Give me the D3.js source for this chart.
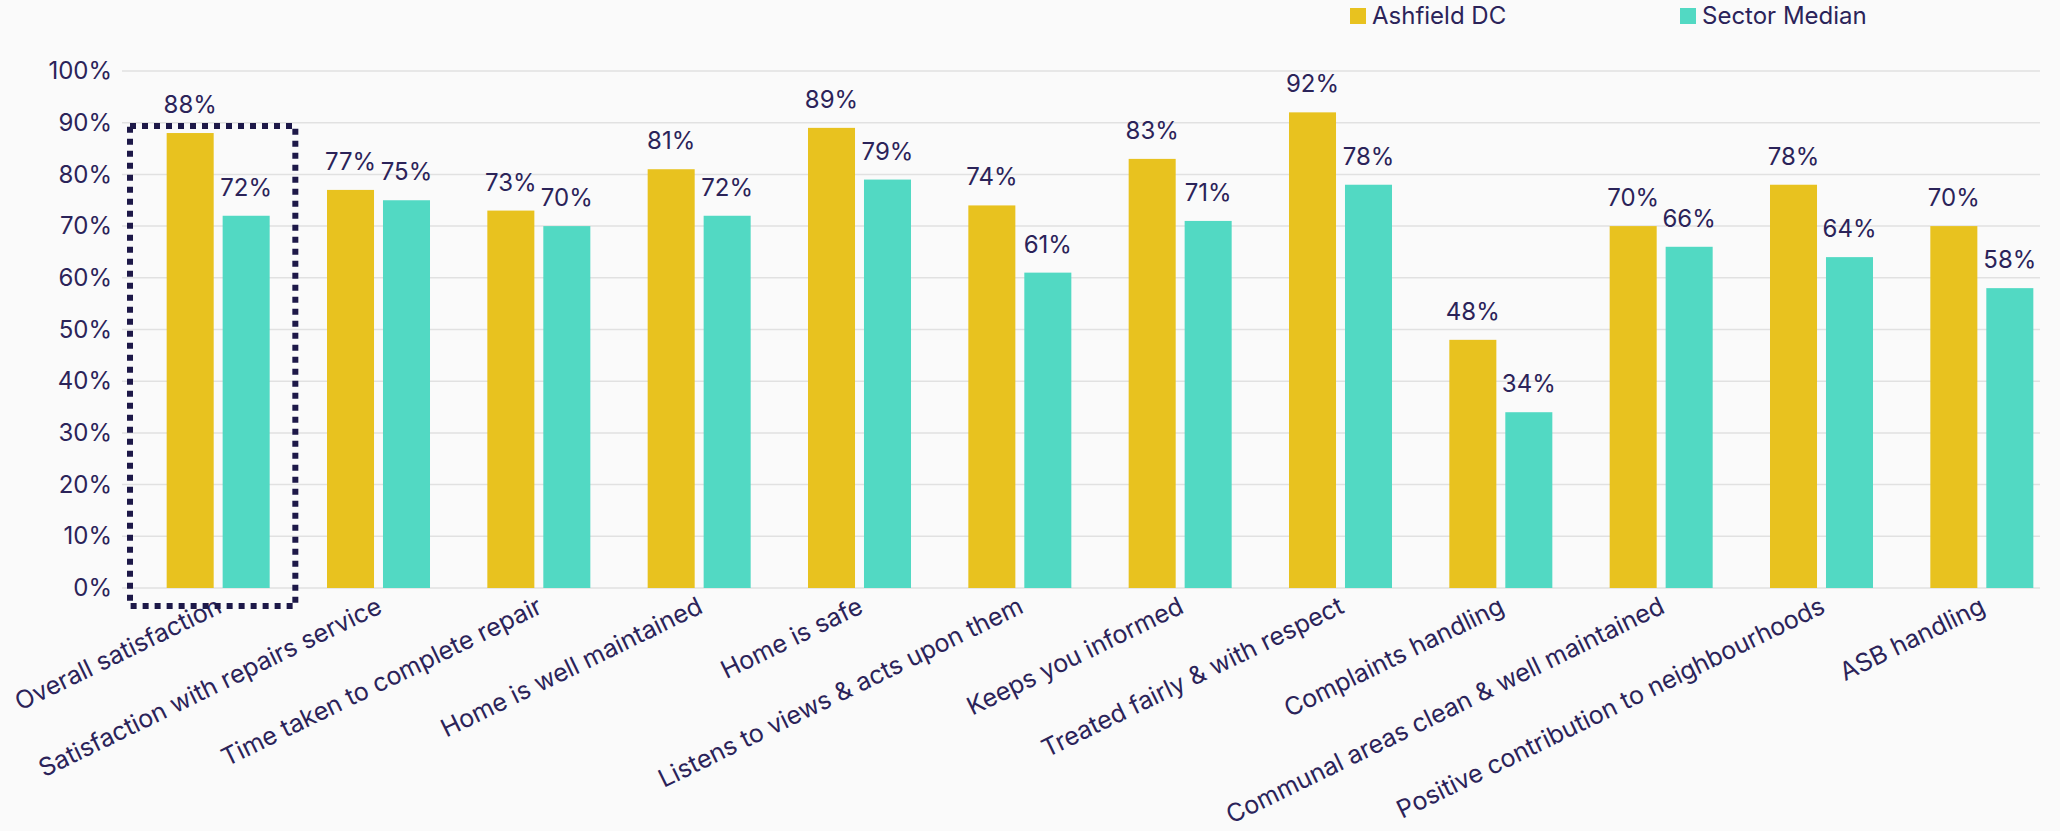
<!DOCTYPE html>
<html lang="en">
<head>
<meta charset="UTF-8">
<title>Ashfield DC vs Sector Median</title>
<style>
  body { margin: 0; background: #fafafa; }
  svg { display: block; font-family: Inter, "Noto Sans", sans-serif; }
</style>
</head>
<body>
<div id="root"></div>
<script src="https://d3js.org/d3.v7.min.js"></script>
<script>
const categories = [
  "Overall satisfaction",
  "Satisfaction with repairs service",
  "Time taken to complete repair",
  "Home is well maintained",
  "Home is safe",
  "Listens to views & acts upon them",
  "Keeps you informed",
  "Treated fairly & with respect",
  "Complaints handling",
  "Communal areas clean & well maintained",
  "Positive contribution to neighbourhoods",
  "ASB handling"
]
const seriesNames = ["Ashfield DC", "Sector Median"]
const ashfield = [88, 77, 73, 81, 89, 74, 83, 92, 48, 70, 78, 70]
const sectorMedian = [72, 75, 70, 72, 79, 61, 71, 78, 34, 66, 64, 58]
const yTicks = [0, 10, 20, 30, 40, 50, 60, 70, 80, 90, 100]

const colors = { "Ashfield DC": "#e8c21f", "Sector Median": "#52d9c3" }
const textColor = "#2b2359"

const W = 2060, H = 831
const svg = d3.select("#root").append("svg")
  .attr("width", W)
  .attr("height", H)

// plot area
const gridLeft = 122, gridRight = 2040

const y = d3.scaleLinear().domain([0, 100]).range([588, 71])

const x0 = d3.scaleBand()
  .domain(categories)
  .range([138, 2062])

const x1 = d3.scaleBand()
  .domain(seriesNames)
  .range([0, x0.bandwidth()])
  .paddingInner(0.16)
  .paddingOuter(0.512)

// gridlines
svg.append("g")
  .selectAll("line")
  .data(yTicks)
  .join("line")
  .attr("x1", gridLeft)
  .attr("x2", gridRight)
  .attr("y1", d => y(d))
  .attr("y2", d => y(d))
  .attr("stroke", "#e1e1e1")
  .attr("stroke-width", 1.5)

// y axis labels
const yAxis = d3.axisLeft(y)
  .tickValues(yTicks)
  .tickFormat(d => d + "%")
  .tickSize(0)
  .tickPadding(0)

svg.append("g")
  .attr("transform", "translate(112,0)")
  .call(yAxis)
  .call(g => g.select(".domain").remove())
  .call(g => g.selectAll("text")
    .attr("fill", textColor)
    .attr("font-size", 24)
    .attr("font-family", "Inter, sans-serif"))

const rows = categories.map((c, i) => ({
  cat: c,
  values: [
    { key: "Ashfield DC", value: ashfield[i] },
    { key: "Sector Median", value: sectorMedian[i] }
  ]
}))

const groups = svg.append("g")
  .selectAll("g")
  .data(rows)
  .join("g")
  .attr("transform", d => `translate(${x0(d.cat)},0)`)

groups.selectAll("rect")
  .data(d => d.values)
  .join("rect")
  .attr("x", d => x1(d.key))
  .attr("y", d => y(d.value))
  .attr("width", x1.bandwidth())
  .attr("height", d => y(0) - y(d.value))
  .attr("fill", d => colors[d.key])

groups.selectAll("text.val")
  .data(d => d.values)
  .join("text")
  .attr("class", "val")
  .attr("x", d => x1(d.key) + x1.bandwidth() / 2)
  .attr("y", d => y(d.value) - 20)
  .attr("text-anchor", "middle")
  .attr("fill", textColor)
  .attr("font-size", 24)
  .text(d => d.value + "%")

// category labels
svg.append("g")
  .selectAll("text")
  .data(categories)
  .join("text")
  .attr("transform", d => `translate(${x0(d) + x0.bandwidth() / 2 + 5},${y(0) + 24}) rotate(-26)`)
  .attr("text-anchor", "end")
  .attr("fill", textColor)
  .attr("font-size", 25)
  .text(d => d)

// dotted highlight box around first group
const first = categories[0]
svg.append("rect")
  .attr("x", x0(first) - 8)
  .attr("y", y(88) - 7)
  .attr("width", x0.bandwidth() + 5)
  .attr("height", y(0) - y(88) + 25)
  .attr("fill", "none")
  .attr("stroke", "#1d1848")
  .attr("stroke-width", 6)
  .attr("stroke-dasharray", "6 6")

// legend
const legend = svg.append("g")
  .selectAll("g")
  .data(seriesNames)
  .join("g")
  .attr("transform", (d, i) => `translate(${i === 0 ? 1350 : 1680},8)`)

legend.append("rect")
  .attr("width", 16)
  .attr("height", 16)
  .attr("fill", d => colors[d])

legend.append("text")
  .attr("x", 22)
  .attr("y", 8)
  .attr("dy", "0.35em")
  .attr("fill", textColor)
  .attr("font-size", 24)
  .text(d => d)
</script>
</body>
</html>
